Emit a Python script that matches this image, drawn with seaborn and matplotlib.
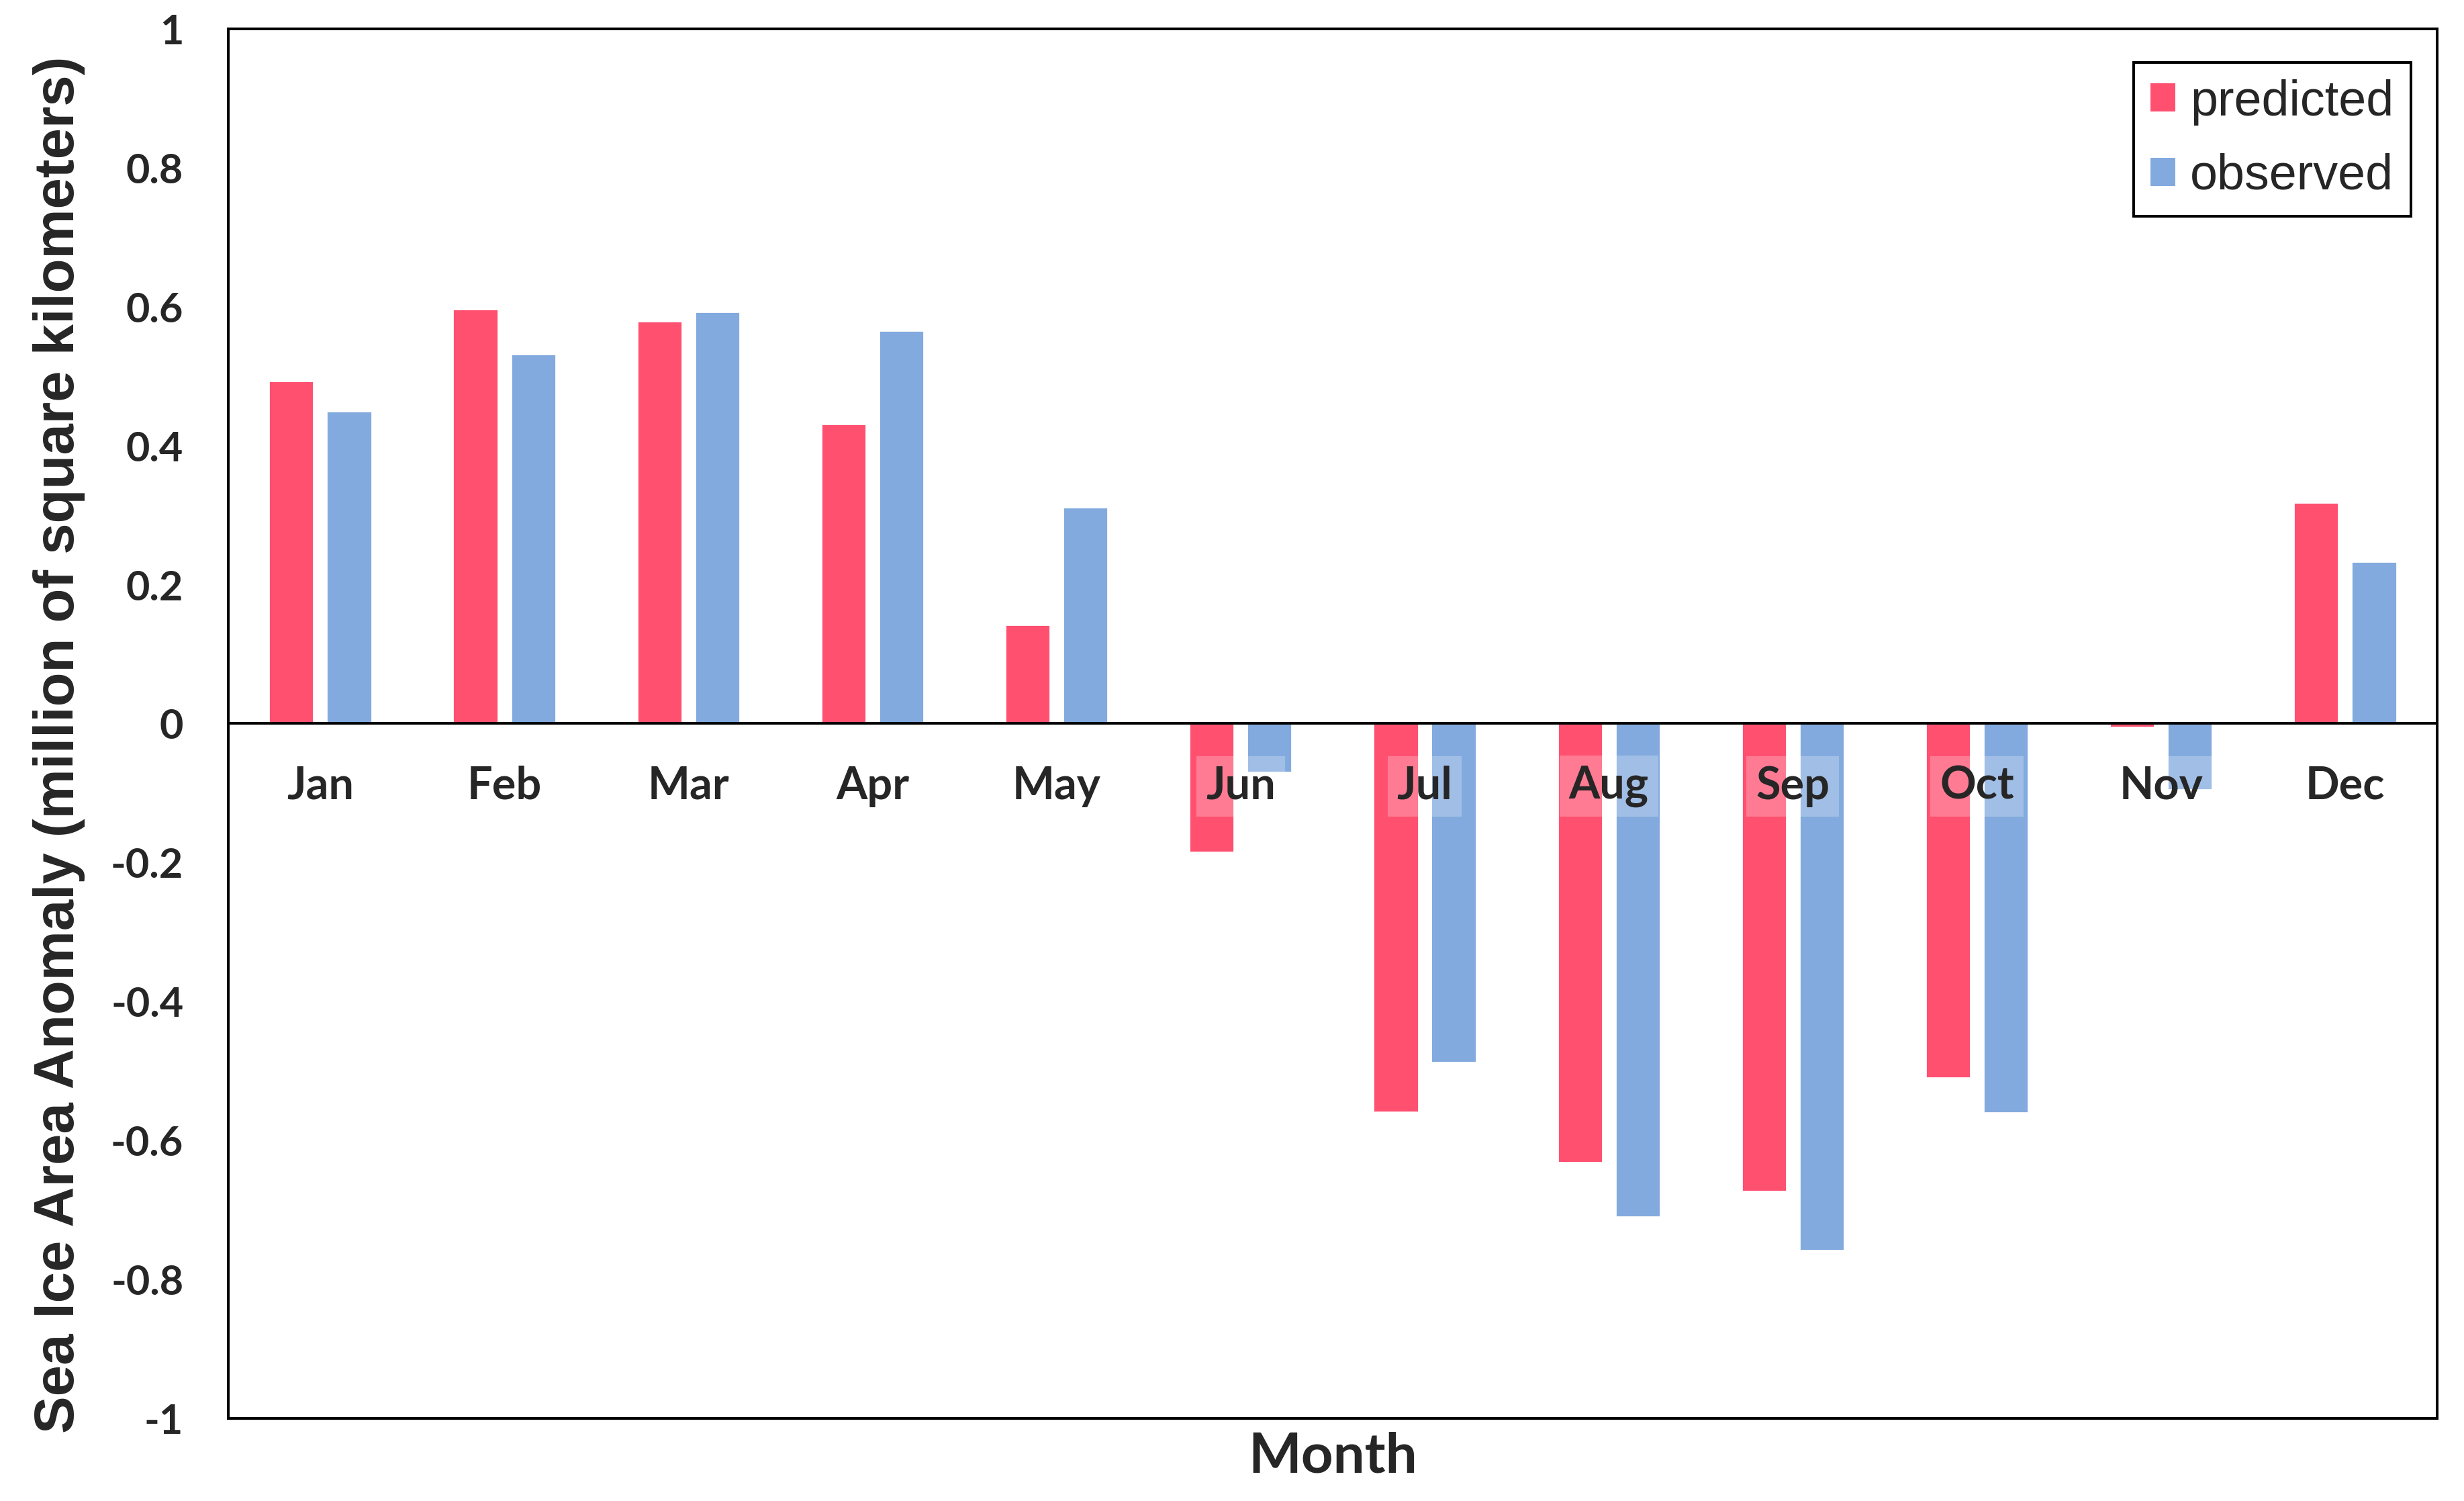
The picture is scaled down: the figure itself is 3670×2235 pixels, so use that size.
import numpy as np
import pandas as pd
import seaborn as sns
import matplotlib.pyplot as plt
from matplotlib.patches import Patch

# data
months = ['Jan', 'Feb', 'Mar', 'Apr', 'May', 'Jun',
          'Jul', 'Aug', 'Sep', 'Oct', 'Nov', 'Dec']
predicted = [0.493, 0.597, 0.579, 0.432, 0.143, -0.185,
             -0.559, -0.632, -0.673, -0.510, -0.005, 0.318]
observed = [0.450, 0.532, 0.593, 0.566, 0.312, -0.070,
            -0.488, -0.710, -0.758, -0.560, -0.095, 0.233]
series = ['predicted', 'observed']
colors = ['#FF5070', '#82AADE']
yticks = [-1, -0.8, -0.6, -0.4, -0.2, 0, 0.2, 0.4, 0.6, 0.8, 1]
ytick_labels = ['-1', '-0.8', '-0.6', '-0.4', '-0.2', '0',
                '0.2', '0.4', '0.6', '0.8', '1']

df = pd.DataFrame({
    'month': months * 2,
    'value': predicted + observed,
    'kind': [series[0]] * len(months) + [series[1]] * len(months),
})

sns.set_style('white')
plt.rcParams['font.family'] = ['Lato', 'DejaVu Sans']

fig = plt.figure(figsize=(18.35, 11.175), dpi=200)
ax = fig.add_axes([0.0926, 0.055, 0.8965, 0.9258])

sns.barplot(data=df, x='month', y='value', hue='kind', order=months,
            hue_order=series, palette=colors, width=0.628, gap=0.22,
            errorbar=None, saturation=1, legend=False, ax=ax, zorder=2)

ax.axhline(0, color='black', lw=1.4, zorder=3)
ax.set_xlim(-0.5, len(months) - 0.5)
ax.set_ylim(-1, 1)
ax.set_yticks(yticks)
ax.set_yticklabels(ytick_labels, fontsize=22, fontweight='bold')
ax.tick_params(axis='y', length=0, pad=24)
ax.set_xticks([])

# month names sit just under the zero line, over the bars
for i, m in enumerate(months):
    ax.text(i, -0.09, m, ha='center', va='center', fontsize=24,
            fontweight='bold', zorder=5,
            bbox=dict(facecolor='white', alpha=0.25, edgecolor='none', pad=5))

ax.set_xlabel('Month', fontsize=30, fontweight='bold', labelpad=7)
ax.set_ylabel('Sea Ice Area Anomaly (million of square kilometers)',
              fontsize=30, fontweight='bold', family='Liberation Sans',
              va='center')
ax.yaxis.set_label_coords(-0.0766, 0.485)

for s in ax.spines.values():
    s.set_visible(True)
    s.set_color('black')
    s.set_linewidth(1.45)

handles = [Patch(facecolor=c, edgecolor='none', label=s)
           for s, c in zip(series, colors)]
leg = ax.legend(handles=handles, loc='upper right',
                bbox_to_anchor=(0.988, 0.976), borderaxespad=0,
                prop={'family': 'Liberation Sans', 'size': 26.5},
                handlelength=0.5, handleheight=0.5, handletextpad=0.3,
                labelspacing=0.56, borderpad=0.34, fancybox=False,
                framealpha=1, edgecolor='black')
leg.get_frame().set_linewidth(1.45)

fig.savefig('out.png', dpi=200)
